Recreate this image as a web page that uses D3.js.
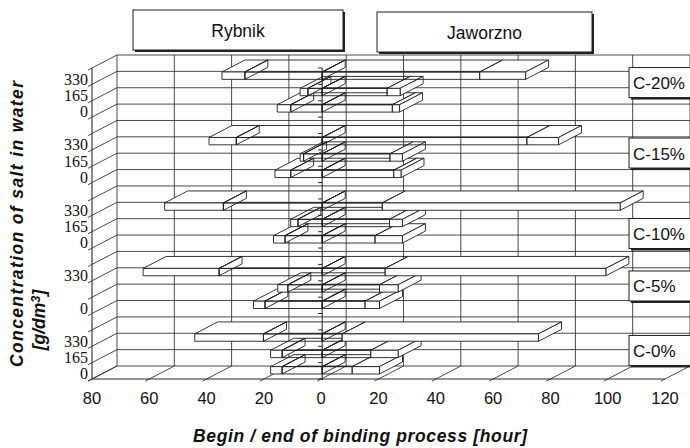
<!DOCTYPE html>
<html>
<head>
<meta charset="utf-8">
<script src="https://cdn.jsdelivr.net/npm/d3@7"></script>
<style>
  body { margin: 0; background: #fff; }
  svg { display: block; }
</style>
</head>
<body>
<svg id="chart" width="690" height="448"></svg>
<script>
// ---- data -------------------------------------------------------------
const groups = ["C-20%", "C-15%", "C-10%", "C-5%", "C-0%"];
const concentrations = ["330", "165", "0"];          // salt, g/dm3, per group
const sites = ["Rybnik", "Jaworzno"];
// axis text per bar row (the 165 row of C-5% carries no label)
const axisLabels = ["330","165","0", "330","165","0", "330","165","0", "330","","0", "330","165","0"];
// begin / end of binding [hour], rows ordered group by group, 330-165-0
const rybnikBegin   = [27, 5, 11,   30, 6.5, 11,   34.5, 8.5, 13,   36, 12, 20,    20.5, 14, 14];
const rybnikEnd     = [35, 7.7, 15.7, 39.5, 7.7, 16.5, 55, 11, 17,  62.5, 15.5, 24, 44.5, 18, 18];
const jaworznoBegin = [55, 22.7, 24.5, 71.5, 23.7, 25, 21, 23.5, 18.5, 22, 20, 15,  7, 17, 10.5];
const jaworznoEnd   = [71, 27.2, 27,  82.5, 28, 27.5,  104, 28, 28,  99, 26.5, 20,  75.5, 26.5, 20];
const xTicks = [-80, -60, -40, -20, 0, 20, 40, 60, 80, 100, 120];

// ---- layout -----------------------------------------------------------
const W = 690, H = 448;
const DX = 25, DY = -13;           // screen shift of the full depth
const Z0 = 0.04, Z1 = 0.96;        // depth span of the bars
const tagNudge = [-10, -5, 10, -3, -4];
const ink = "#1e1e1e";
const sans = "Liberation Sans, Arial, sans-serif";

const svg = d3.select("#chart");
const x = d3.scaleLinear().domain([-80, 120]).range([92, 665]);
const slots = d3.range(groups.length * 4 - 1);
const y = d3.scaleBand().domain(slots).range([68, 379]);
const bw = y.bandwidth();
const barH = bw * 0.45;
const yTop = y.range()[0], yBot = y.range()[1];
const proj = (px, py, z) => [px + z * DX, py + z * DY];
const poly = pts => pts.map(p => p.join(",")).join(" ");

// rows: one per group × concentration
const rows = [];
groups.forEach((g, gi) => concentrations.forEach((c, ci) => {
  const r = gi * 3 + ci;
  rows.push({
    group: g, conc: c, slot: gi * 4 + ci, label: axisLabels[r],
    rb: rybnikBegin[r], re: rybnikEnd[r], jb: jaworznoBegin[r], je: jaworznoEnd[r]
  });
}));

// ---- walls and gridlines ----------------------------------------------
const grid = svg.append("g").attr("stroke", "#2b2b2b").attr("stroke-width", 0.85).attr("fill", "none");
const bounds = d3.range(slots.length + 1).map(i => yTop + i * bw);
const seg = (g, a, b) => g.append("line").attr("x1", a[0]).attr("y1", a[1]).attr("x2", b[0]).attr("y2", b[1]);

bounds.forEach(yb => seg(grid, proj(x(-80), yb, 1), proj(x(120), yb, 1)));     // back wall rows
xTicks.forEach(t => seg(grid, proj(x(t), yTop, 1), proj(x(t), yBot, 1)));       // back wall columns
bounds.forEach(yb => seg(grid, proj(x(-80), yb, -0.16), proj(x(-80), yb, 1))); // side wall + ticks
xTicks.forEach(t => seg(grid, proj(x(t), yBot, -0.16), proj(x(t), yBot, 1)));  // floor + ticks
seg(grid, [x(-80), yTop], [x(-80), yBot]).attr("stroke-width", 1.1);
seg(grid, [x(-80), yBot], [x(120), yBot]).attr("stroke-width", 1.1);

// ---- bars ---------------------------------------------------------------
const bars = svg.append("g").attr("stroke", ink).attr("stroke-width", 0.9).attr("stroke-linejoin", "round");

// one 3-D slab from v1 to v2; the begin part is only outlined, the end part is solid
function slab(v1, v2, yc, solid) {
  const a = x(Math.min(v1, v2)), b = x(Math.max(v1, v2));
  const t = yc - barH / 2, btm = yc + barH / 2;
  const g = bars.append("g").attr("fill", solid ? "#fff" : "none");
  g.append("polygon").attr("points", poly([proj(a, t, Z0), proj(b, t, Z0), proj(b, t, Z1), proj(a, t, Z1)]));
  g.append("polygon").attr("points", poly([proj(b, t, Z0), proj(b, t, Z1), proj(b, btm, Z1), proj(b, btm, Z0)]));
  g.append("polygon").attr("points", poly([proj(a, t, Z0), proj(b, t, Z0), proj(b, btm, Z0), proj(a, btm, Z0)]));
}

// lower rows first so the rows above sit in front of their top faces
rows.slice().sort((p, q) => q.slot - p.slot).forEach(r => {
  const yc = y(r.slot) + bw / 2;
  slab(-r.re, -r.rb, yc, true);   // Rybnik, begin → end
  slab(-r.rb, 0, yc, false);      // Rybnik, 0 → begin
  slab(0, r.jb, yc, false);       // Jaworzno, 0 → begin
  slab(r.jb, r.je, yc, true);     // Jaworzno, begin → end
});

// zero line with small ticks
const zx = x(0) + Z0 * DX;
const zero = svg.append("g").attr("stroke", ink).attr("stroke-width", 1);
seg(zero, [zx, yTop], [zx, yBot + 1]);
bounds.forEach(yb => seg(zero, [zx - 4, yb], [zx, yb]));

// ---- axis text ------------------------------------------------------------
svg.append("g").selectAll("text").data(xTicks).join("text")
  .attr("x", d => x(d)).attr("y", 404)
  .attr("text-anchor", "middle")
  .attr("font-family", sans).attr("font-size", 16.5)
  .attr("fill", "#111")
  .text(d => Math.abs(d));

svg.append("g").selectAll("text").data(rows.filter(r => r.label)).join("text")
  .attr("x", 88).attr("y", r => y(r.slot) + bw / 2 + 3)
  .attr("dominant-baseline", "central").attr("text-anchor", "end")
  .attr("font-family", "Liberation Serif, Times New Roman, serif").attr("font-size", 16)
  .attr("fill", "#111")
  .text(r => r.label);

svg.append("text")
  .attr("transform", "translate(23,224) rotate(-90)")
  .attr("text-anchor", "middle")
  .attr("font-family", sans).attr("font-size", 17.5)
  .attr("font-weight", "bold").attr("font-style", "italic").attr("fill", "#111")
  .attr("textLength", 286).attr("lengthAdjust", "spacing")
  .text("Concentration of salt in water");

const unit = svg.append("text")
  .attr("transform", "translate(45,320) rotate(-90)")
  .attr("text-anchor", "middle")
  .attr("font-family", sans).attr("font-size", 17.5)
  .attr("font-weight", "bold").attr("font-style", "italic").attr("fill", "#111");
unit.append("tspan").text("[g/dm");
unit.append("tspan").attr("dy", -5).attr("font-size", 13).text("3");
unit.append("tspan").attr("dy", 5).text("]");

svg.append("text")
  .attr("x", 360).attr("y", 442)
  .attr("text-anchor", "middle")
  .attr("font-family", sans).attr("font-size", 17.5)
  .attr("font-weight", "bold").attr("font-style", "italic").attr("fill", "#111")
  .attr("textLength", 334).attr("lengthAdjust", "spacing")
  .text("Begin / end of binding process [hour]");

// ---- site headers ---------------------------------------------------------
const headerBoxes = [{ x: 133, y: 10, w: 210, h: 40 }, { x: 377, y: 12, w: 215, h: 40 }];
sites.forEach((s, i) => {
  const b = headerBoxes[i];
  svg.append("rect").attr("x", b.x + 2).attr("y", b.y + 2).attr("width", b.w).attr("height", b.h).attr("fill", "#222");
  svg.append("rect").attr("x", b.x).attr("y", b.y).attr("width", b.w).attr("height", b.h)
    .attr("fill", "#fff").attr("stroke", ink).attr("stroke-width", 1);
  svg.append("text").attr("x", b.x + b.w / 2).attr("y", b.y + b.h / 2 + 1)
    .attr("text-anchor", "middle").attr("dominant-baseline", "central")
    .attr("font-family", sans).attr("font-size", 17.5).attr("fill", "#111")
    .text(s);
});

// ---- group tags on the right -----------------------------------------------
groups.forEach((g, gi) => {
  const cy = yTop + (gi * 4 + 1.5) * bw + tagNudge[gi];
  const top = cy - 15;
  svg.append("rect").attr("x", 631).attr("y", top + 2).attr("width", 70).attr("height", 30).attr("fill", "#222");
  svg.append("rect").attr("x", 629).attr("y", top).attr("width", 70).attr("height", 30)
    .attr("fill", "#fff").attr("stroke", ink).attr("stroke-width", 1);
  svg.append("text").attr("x", 633).attr("y", cy + 1)
    .attr("dominant-baseline", "central")
    .attr("font-family", sans).attr("font-size", 17).attr("fill", "#111")
    .text(g);
});
</script>
</body>
</html>
